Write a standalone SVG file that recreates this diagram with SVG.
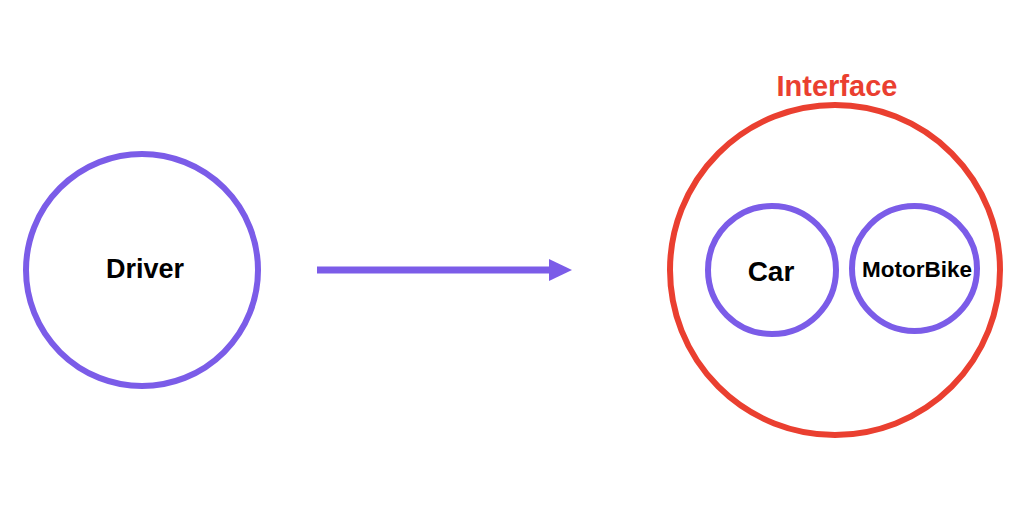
<svg xmlns="http://www.w3.org/2000/svg" width="1024" height="525" viewBox="0 0 1024 525">
<style>
.p{fill:none;stroke:#7B5CE8;stroke-width:6}
.t{font-family:"Liberation Sans",Arial,sans-serif;font-weight:bold;fill:#000;text-anchor:middle}
</style>
<defs>
<marker id="ah" markerUnits="userSpaceOnUse" markerWidth="24" markerHeight="22" refX="0" refY="11" orient="auto">
<path d="M0,0 L23,11 L0,22 Z" fill="#7B5CE8"/>
</marker>
</defs>
<rect width="1024" height="525" fill="#fff"/>
<g id="driver">
<circle class="p" cx="142" cy="270" r="116"/>
<text class="t" x="145" y="278" font-size="27">Driver</text>
</g>
<g id="interface">
<circle cx="835" cy="270" r="165" fill="none" stroke="#EA3F30" stroke-width="6"/>
<text x="837" y="96" font-family="Liberation Sans,Arial,sans-serif" font-weight="bold" font-size="29" fill="#EA3F30" text-anchor="middle">Interface</text>
</g>
<g id="car">
<circle class="p" cx="772" cy="270" r="64"/>
<text class="t" x="771" y="281" font-size="28">Car</text>
</g>
<g id="motorbike">
<circle class="p" cx="914.5" cy="268.5" r="62.5"/>
<text class="t" x="917" y="277" font-size="22.5">MotorBike</text>
</g>
<g id="connectors">
<line x1="317" y1="270" x2="549" y2="270" stroke="#7B5CE8" stroke-width="7" marker-end="url(#ah)"/>
</g>
</svg>
